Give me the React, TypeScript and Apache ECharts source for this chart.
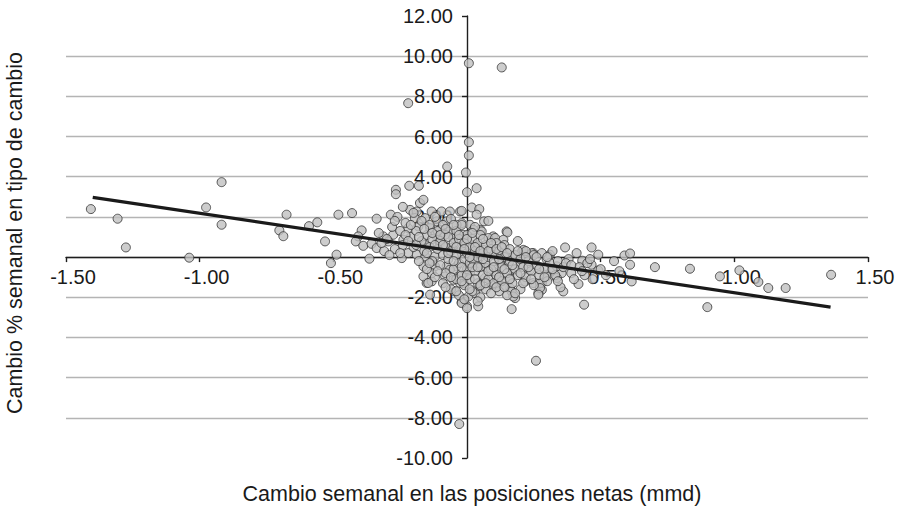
import React, { useEffect, useRef } from "react";
import * as echarts from "echarts";

const xTicks = [-1.5, -1.0, -0.5, 0, 0.5, 1.0, 1.5];
const yTicks = [-10, -8, -6, -4, -2, 0, 2, 4, 6, 8, 10, 12];
const xAxisTitle = "Cambio semanal en las posiciones netas (mmd)";
const yAxisTitle = "Cambio % semanal en tipo de cambio";

const outerPoints: number[][] = [
  [-1.407, 2.39], [-1.307, 1.91], [-1.276, 0.48], [-1.039, -0.03], [-0.976, 2.47],
  [-0.918, 3.73], [-0.918, 1.61], [-0.702, 1.33], [-0.687, 1.04], [-0.675, 2.11],
  [-0.591, 1.54], [-0.56, 1.73], [-0.531, 0.78], [-0.488, 0.12], [-0.509, -0.3],
  [-0.481, 2.11], [-0.43, 2.19], [-0.394, 1.33], [-0.407, 1.03], [-0.416, 0.78],
  [-0.388, 0.56], [-0.357, 0.66], [-0.365, -0.08], [-0.338, 1.91], [-0.338, 0.45],
  [-0.266, 3.35], [-0.266, 3.13], [-0.216, 3.55], [-0.18, 3.55], [-0.285, 2.11],
  [-0.213, 2.35], [-0.176, 2.69], [-0.163, 2.85], [-0.188, 2.27], [-0.195, 1.94],
  [-0.157, 1.94], [-0.132, 2.27], [-0.095, 2.27], [-0.064, 2.27], [-0.113, 1.78],
  [-0.076, 1.78], [-0.026, 2.27], [-0.02, 1.69], [-0.039, 1.61], [-0.22, 1.44],
  [-0.182, 1.53], [-0.138, 1.44], [-0.101, 1.36], [-0.064, 1.28], [-0.276, 1.11],
  [-0.313, 1.03], [-0.074, 4.51], [-0.004, 4.21], [0.0, 3.23], [0.036, 3.43],
  [0.018, 2.47], [0.046, 2.39], [0.036, 2.11], [-0.02, 2.3], [0.064, 1.78],
  [0.011, 1.61], [0.148, 1.28], [0.049, 1.36], [0.098, 1.03], [0.007, 9.65],
  [0.13, 9.44], [-0.22, 7.66], [0.007, 5.72], [0.007, 5.06], [0.258, -5.16],
  [-0.029, -8.31], [0.367, 0.48], [0.466, 0.48], [0.491, 0.12], [0.589, 0.08],
  [0.61, 0.18], [0.61, -0.38], [0.616, -1.21], [0.703, -0.5], [0.834, -0.58],
  [0.946, -0.96], [1.019, -0.66], [1.09, -1.24], [1.127, -1.54], [1.192, -1.54],
  [1.362, -0.88], [0.899, -2.49], [0.438, -2.37], [0.36, -1.71], [0.417, -1.34],
  [0.431, -0.18], [0.466, -0.38], [0.491, -0.66], [0.298, -0.1], [0.31, 0.12],
  [0.317, -0.68], [0.354, -0.8], [0.336, -1.04], [0.298, -0.88], [0.28, -1.63],
  [0.28, -1.29], [0.151, 1.23], [0.08, 0.95], [0.105, 0.95], [0.136, 0.86],
  [0.205, 0.28], [0.248, 0.2], [0.161, -1.04], [0.161, -1.54], [0.167, -1.71],
  [0.18, -2.04], [0.167, -2.59], [0.042, -2.45], [0.0, -2.45], [-0.02, -2.25],
  [0.005, -1.96], [0.03, -1.79], [-0.045, -1.71], [-0.151, -1.29], [-0.132, -1.21],
  [0.217, -1.21], [0.248, -1.29], [0.273, -1.29], [0.267, -1.79], [0.273, -1.54],
  [0.298, -0.96], [0.236, -0.63], [0.198, -0.38], [0.173, -0.63], [0.154, -0.38],
  [0.123, -0.3], [0.098, -0.71], [0.092, -1.38], [0.067, -1.04], [0.074, -0.55],
  [0.042, -0.3], [0.011, -0.38], [0.011, -0.8], [-0.026, -0.96], [-0.039, -0.46],
  [-0.076, -0.46], [-0.12, -0.46], [-0.12, 0.03], [-0.157, 0.03], [-0.157, 0.61],
  [-0.12, 1.11], [-0.082, 1.11], [-0.051, 0.95], [-0.014, 1.11], [0.024, 1.36],
  [0.055, 1.28], [-0.007, 0.7], [0.03, 0.61], [0.061, 0.36], [-0.101, 0.7],
  [-0.057, 0.45], [-0.02, 0.2], [0.018, 0.12], [0.111, 0.28], [0.142, 0.12],
  [0.173, 0.03], [0.117, -1.13], [0.136, -1.46], [0.049, -1.46], [-0.014, -1.29],
  [-0.051, -1.13], [-0.082, -0.96], [-0.294, 0.78], [-0.244, -0.05], [-0.238, 0.86],
  [-0.188, 0.12], [-0.163, -0.46], [-0.132, -0.8], [-0.163, -0.96], [-0.145, -1.29],
  [-0.064, -0.63], [-0.026, -1.29], [-0.02, -2.29], [0.0, -2.54], [-0.138, -1.87],
  [0.211, 0.36], [0.242, 0.2], [0.304, 0.03], [0.336, -0.46], [0.267, -1.87],
  [0.173, -1.96],
];

const corePoints: number[][] = [
  [-0.33, 1.2], [-0.31, 0.3], [-0.3, 0.9], [-0.28, 1.5], [-0.27, 0.4], [-0.26, 2.0],
  [-0.25, 1.3], [-0.24, 0.6], [-0.23, 1.7], [-0.22, 0.2], [-0.21, 1.0], [-0.2, 2.2],
  [-0.2, 0.5], [-0.19, 1.3], [-0.18, -0.2], [-0.17, 0.8], [-0.17, 1.8], [-0.16, 0.3],
  [-0.15, 1.1], [-0.15, -0.6], [-0.14, 0.5], [-0.14, 1.6], [-0.13, -0.2], [-0.13, 0.9],
  [-0.12, 2.0], [-0.12, -1.0], [-0.11, 0.4], [-0.11, 1.3], [-0.1, -0.4], [-0.1, 0.8],
  [-0.09, -1.3], [-0.09, 0.1], [-0.09, 1.6], [-0.08, 0.5], [-0.08, -0.8], [-0.07, 1.0],
  [-0.07, -0.1], [-0.06, -1.6], [-0.06, 0.3], [-0.06, 1.9], [-0.05, 0.7], [-0.05, -0.6],
  [-0.04, -1.1], [-0.04, 0.1], [-0.04, 1.3], [-0.03, -0.3], [-0.03, 0.9], [-0.03, -1.9],
  [-0.02, 0.4], [-0.02, -0.9], [-0.02, 1.6], [-0.01, -0.1], [-0.01, -1.4], [-0.01, 0.7],
  [0.0, 0.2], [0.0, -0.6], [0.0, 1.1], [0.01, -1.1], [0.01, 0.5], [0.01, -0.3],
  [0.02, 0.9], [0.02, -1.7], [0.02, -0.1], [0.03, 0.3], [0.03, -0.7], [0.03, 1.5],
  [0.04, -1.3], [0.04, 0.0], [0.04, 0.7], [0.05, -0.5], [0.05, -2.0], [0.05, 1.1],
  [0.06, 0.2], [0.06, -0.9], [0.07, -0.3], [0.07, 0.6], [0.07, -1.6], [0.08, 0.0],
  [0.08, -1.1], [0.08, 1.8], [0.09, -0.6], [0.09, 0.4], [0.1, -1.3], [0.1, 0.1],
  [0.1, -0.2], [0.11, 0.7], [0.11, -0.9], [0.12, -1.7], [0.12, 0.3], [0.13, -0.5],
  [0.13, -1.2], [0.14, 0.0], [0.14, 0.6], [0.15, -0.8], [0.15, -1.9], [0.16, -0.2],
  [0.16, 0.4], [0.17, -1.3], [0.18, -0.6], [0.18, 0.1], [0.19, -0.9], [0.19, 0.8],
  [0.2, -0.1], [0.2, -1.6], [0.21, -0.5], [0.22, 0.3], [0.22, -1.0], [0.23, -0.2],
  [0.24, -0.7], [0.25, 0.1], [0.25, -1.4], [0.26, -0.4], [0.27, -0.9], [0.28, 0.2],
  [0.29, -0.6], [0.3, -1.2], [0.31, -0.3], [0.32, 0.3], [0.33, -0.9], [0.34, -0.2],
  [0.35, -1.5], [0.36, -0.5], [0.38, -0.1], [0.39, -0.8], [0.4, -1.1], [0.41, 0.2],
  [0.42, -0.5], [0.44, -0.9], [0.45, -0.3], [0.47, -1.1], [0.5, -0.6], [0.52, -0.9],
  [0.55, -0.2], [0.57, -0.7],
  [-0.32, 0.7], [-0.29, 0.1], [-0.27, 1.8], [-0.25, 0.2], [-0.24, 2.5], [-0.23, 1.1],
  [-0.22, 0.8], [-0.21, 1.6], [-0.19, 0.6], [-0.18, 1.0], [-0.16, 1.4], [-0.15, 0.2],
  [-0.14, -0.3], [-0.13, 1.2], [-0.12, 0.6], [-0.11, -0.7], [-0.1, 1.1], [-0.09, 0.6],
  [-0.08, -1.5], [-0.08, 1.4], [-0.07, 0.2], [-0.06, -1.0], [-0.05, 1.6], [-0.05, -0.2],
  [-0.04, -1.7], [-0.04, 0.5], [-0.03, 1.1], [-0.02, -1.2], [-0.02, -0.5], [-0.01, 0.4],
  [-0.01, -2.1], [0.0, -0.9], [0.0, 0.9], [0.01, -1.6], [0.01, 0.0], [0.02, 1.2],
  [0.02, -0.5], [0.03, -1.1], [0.03, 0.5], [0.04, -2.2], [0.04, -0.5], [0.05, 0.3],
  [0.05, -1.4], [0.06, 0.9], [0.06, -0.1], [0.07, -1.3], [0.08, 0.3], [0.08, -0.7],
  [0.09, -1.8], [0.09, 0.7], [0.1, -0.5], [0.11, -1.5], [0.11, 0.4], [0.12, -0.1],
  [0.12, -1.0], [0.13, 0.5], [0.14, -0.6], [0.14, -1.5], [0.15, 0.2], [0.16, -1.1],
  [0.17, -0.4], [0.18, -1.8], [0.19, 0.3], [0.2, -0.8], [0.21, -1.3], [0.22, 0.0],
  [0.23, -0.5], [0.24, -1.1], [0.26, 0.0], [0.27, -0.6], [0.29, -1.0], [0.3, 0.0],
  [0.32, -0.6], [0.34, -1.2], [0.37, -0.3], [0.39, -0.4], [0.43, -0.7], [0.46, -0.1],
];

const trendLine: number[][] = [
  [-1.4, 2.97],
  [1.36, -2.49],
];

const FONT = '"Liberation Sans", Arial, "DejaVu Sans", sans-serif';
const TEXT = "#1a1a1a";

const W = 898;
const H = 515;
const G_LEFT = 66;
const G_RIGHT = 30;
const G_TOP = 16;
const G_BOTTOM = 57;

export default function App() {
  const ref = useRef<HTMLDivElement>(null);

  useEffect(() => {
    if (!ref.current) return;
    const chart = echarts.init(ref.current, undefined, { renderer: "svg" });
    const fmt = (v: number) => (Math.abs(v) < 1e-9 ? "" : v.toFixed(2));

    const xMin = xTicks[0];
    const xMax = xTicks[xTicks.length - 1];
    const yMin = yTicks[0];
    const yMax = yTicks[yTicks.length - 1];
    const gw = W - G_LEFT - G_RIGHT;
    const gh = H - G_TOP - G_BOTTOM;
    // shift the axes so that they cross at zero (labels move with them)
    const yAxisOffset = -((0 - xMin) / (xMax - xMin)) * gw;
    const xAxisOffset = -((0 - yMin) / (yMax - yMin)) * gh;

    chart.setOption({
      animation: false,
      backgroundColor: "#ffffff",
      grid: { left: G_LEFT, right: G_RIGHT, top: G_TOP, bottom: G_BOTTOM, containLabel: false },
      xAxis: {
        type: "value",
        min: xMin,
        max: xMax,
        interval: 0.5,
        offset: xAxisOffset,
        axisLine: { show: true, onZero: false, lineStyle: { color: "#1e1e1e", width: 1.4 } },
        axisTick: { show: true, length: 5, lineStyle: { color: "#1e1e1e", width: 1.4 } },
        axisLabel: {
          formatter: fmt,
          color: TEXT,
          fontFamily: FONT,
          fontSize: 20,
          margin: 10,
          padding: [0, 0, 0, 14],
        },
        splitLine: { show: false },
      },
      yAxis: {
        type: "value",
        min: yMin,
        max: yMax,
        interval: 2,
        offset: yAxisOffset,
        axisLine: { show: true, onZero: false, lineStyle: { color: "#1e1e1e", width: 1.4 } },
        axisTick: { show: true, length: 5, lineStyle: { color: "#1e1e1e", width: 1.4 } },
        axisLabel: {
          formatter: fmt,
          color: TEXT,
          fontFamily: FONT,
          fontSize: 20,
          margin: 14,
        },
        splitLine: {
          show: true,
          showMinLine: false,
          showMaxLine: false,
          lineStyle: { color: "#b4b4b4", width: 1.3 },
        },
      },
      graphic: [
        {
          type: "text",
          x: 15,
          y: 233,
          rotation: Math.PI / 2,
          style: {
            text: yAxisTitle,
            font: `21.5px ${FONT}`,
            fill: TEXT,
            textAlign: "center",
            textVerticalAlign: "middle",
          },
        },
        {
          type: "text",
          x: 472,
          y: 494,
          style: {
            text: xAxisTitle,
            font: `21.5px ${FONT}`,
            fill: TEXT,
            textAlign: "center",
            textVerticalAlign: "middle",
          },
        },
      ],
      series: [
        {
          type: "scatter",
          data: [...outerPoints, ...corePoints],
          symbol: "circle",
          symbolSize: 9,
          itemStyle: { color: "#c0c0c0", borderColor: "#333333", borderWidth: 1 },
          z: 3,
        },
        {
          type: "line",
          data: trendLine,
          symbol: "none",
          lineStyle: { color: "#1a1a1a", width: 3.2 },
          z: 4,
        },
      ],
    });
    return () => chart.dispose();
  }, []);

  return (
    <div
      ref={ref}
      style={{ position: "fixed", left: 0, top: 0, width: W, height: H }}
    />
  );
}
